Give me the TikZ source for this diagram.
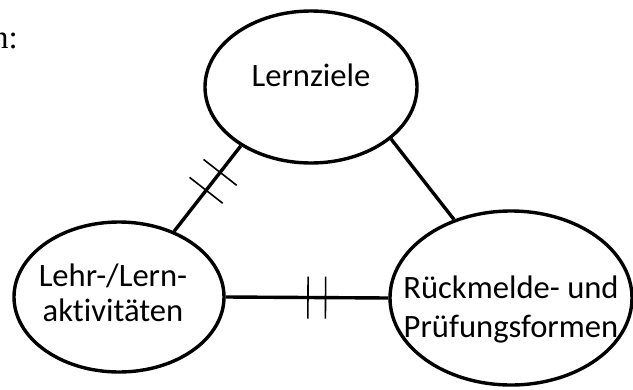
\documentclass[tikz,border=0pt]{standalone}
\usepackage{fontspec}
\setmainfont{Carlito}[Ligatures=NoCommon]
\newfontfamily\serifface{Liberation Serif}
\usetikzlibrary{shapes.geometric,decorations.markings}
\begin{document}
\begin{tikzpicture}[x=1pt,y=-1pt,
  bubble/.style={draw, ellipse, line width=3.4pt, inner sep=0pt},
  lbl/.style={font=\fontsize{32.6}{38}\selectfont, inner sep=0pt, anchor=base},
  link/.style={line width=3.4pt},
  twoticks/.style 2 args={postaction={decorate},
    decoration={markings,
      mark=at position #1 with {\draw[line width=1.6pt] (0,-21pt)--(0,21pt);},
      mark=at position #2 with {\draw[line width=1.6pt] (0,-21pt)--(0,21pt);}}}]
\useasboundingbox (0,0) rectangle (633,389);
% ellipses
\node[bubble, minimum width=212pt, minimum height=152pt] (lz) at (311,87) {};
\node[bubble, minimum width=210pt, minimum height=150pt] (la) at (119,297) {};
\node[bubble, minimum width=242pt, minimum height=174pt] (rp) at (511,298) {};
% labels
\node[lbl] (t1) at (311,86) {Lernziele};
\node[lbl] (t2) at (113,286) {Lehr-/Lern-};
\node[lbl] (t3) at (113,321) {aktivitäten};
\node[lbl] (t4) at (511,298) {Rückmelde- und};
\node[lbl] (t5) at (511,337) {Prüfungsformen};
\node[font=\serifface\fontsize{33}{40}\selectfont, inner sep=0pt, anchor=base east] (n) at (18,48) {n:};
% connectors
\draw[link, twoticks={0.31}{0.52}] (lz.220.6) -- (la.50);
\draw[link] (lz.327) -- (rp.126);
\draw[link, twoticks={0.506}{0.614}] (la.east) -- (rp.west);
\end{tikzpicture}
\end{document}
